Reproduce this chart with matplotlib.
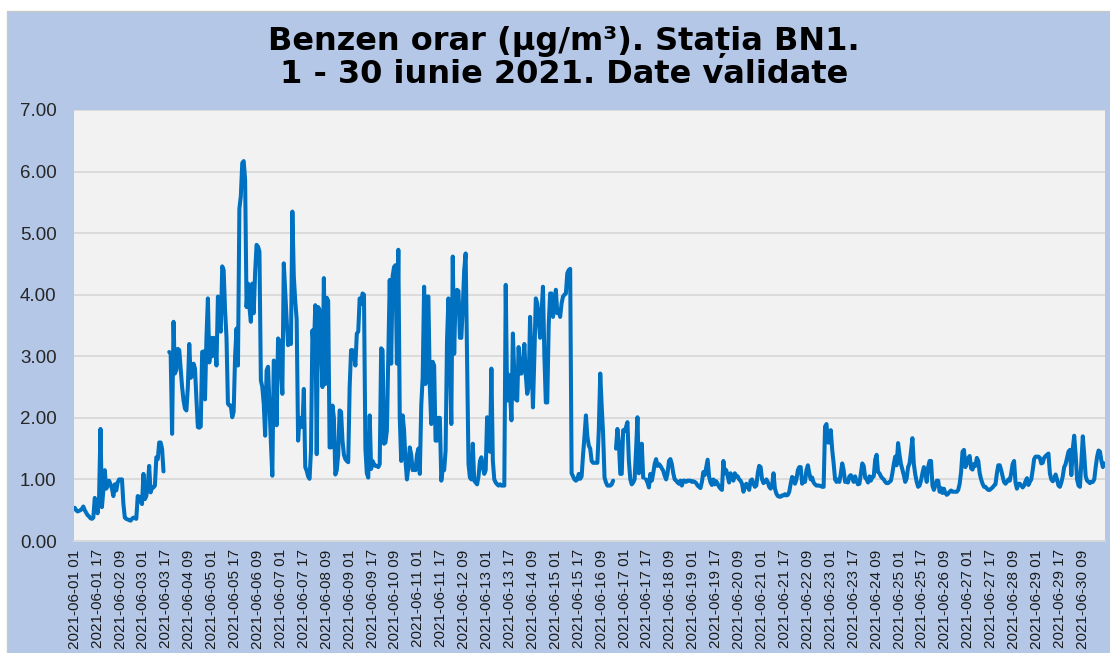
import numpy as np
import pandas as pd
import matplotlib
matplotlib.use("Agg")
import matplotlib.pyplot as plt
from matplotlib.patches import Rectangle
from matplotlib.ticker import FormatStrFormatter

# benzen orar, statia BN1, cate 24 valori pe zi (ora 01 ... ora 24)
iun01 = [0.54, 0.50, 0.48, 0.49, 0.50, 0.52, 0.56, 0.50, 0.46, 0.42, 0.40, 0.37, 0.36, 0.38, 0.70, 0.60, 0.45, 0.70, 1.82, 0.55, 0.82, 1.15, 0.85, 0.90]
iun02 = [0.98, 0.92, 0.85, 0.73, 0.92, 0.82, 0.95, 1.00, 1.00, 1.00, 0.60, 0.38, 0.36, 0.35, 0.34, 0.33, 0.36, 0.38, 0.37, 0.36, 0.73, 0.72, 0.65, 0.60]
iun03 = [1.09, 0.68, 0.73, 0.90, 1.22, 0.79, 0.87, 0.87, 0.90, 1.36, 1.33, 1.60, 1.60, 1.50, 1.13, None, None, None, 3.07, 3.04, 1.74, 3.56, 2.72, 2.78]
iun04 = [3.12, 3.10, 2.80, 2.50, 2.28, 2.15, 2.12, 2.50, 3.20, 2.65, 2.68, 2.88, 2.80, 2.30, 1.85, 1.84, 1.86, 3.07, 3.08, 2.30, 3.30, 3.94, 2.90, 3.30]
iun05 = [3.00, 3.30, 3.25, 2.85, 3.97, 3.50, 3.40, 4.46, 4.40, 3.75, 3.30, 2.23, 2.20, 2.20, 2.01, 2.10, 3.00, 3.45, 2.85, 5.40, 5.60, 6.14, 6.17, 5.87]
iun06 = [3.80, 4.18, 3.80, 3.56, 4.18, 3.70, 4.37, 4.81, 4.78, 4.70, 2.61, 2.50, 2.23, 1.71, 2.77, 2.83, 2.20, 1.60, 1.06, 2.93, 2.90, 1.88, 3.29, 3.25]
iun07 = [2.80, 2.39, 4.51, 4.05, 3.60, 3.18, 3.30, 3.20, 5.35, 4.30, 3.90, 3.60, 1.63, 2.00, 1.87, 1.85, 2.47, 1.20, 1.14, 1.05, 1.01, 1.47, 3.42, 3.10]
iun08 = [3.83, 1.41, 3.80, 3.75, 3.20, 2.50, 4.27, 2.55, 3.95, 3.90, 1.52, 1.52, 2.20, 2.00, 1.08, 1.15, 1.40, 2.12, 2.10, 1.63, 1.40, 1.33, 1.30, 1.28]
iun09 = [2.50, 3.10, 3.10, 3.05, 2.85, 3.37, 3.40, 3.94, 3.85, 4.02, 4.00, 1.50, 1.10, 1.03, 2.04, 1.17, 1.30, 1.25, 1.22, 1.22, 1.20, 1.25, 3.13, 3.10]
iun10 = [1.58, 1.60, 1.79, 3.00, 4.24, 2.88, 4.30, 4.45, 4.48, 2.88, 4.73, 2.00, 1.30, 2.04, 1.80, 1.30, 1.00, 1.20, 1.52, 1.40, 1.15, 1.20, 1.15, 1.40]
iun11 = [1.50, 1.09, 2.20, 2.66, 4.13, 2.55, 3.97, 3.97, 2.50, 1.90, 2.91, 2.85, 1.63, 1.63, 2.00, 2.00, 0.98, 1.17, 1.15, 1.47, 3.26, 3.94, 3.00, 1.90]
iun12 = [4.62, 3.04, 4.00, 4.08, 4.06, 3.30, 3.30, 3.80, 4.40, 4.67, 3.00, 1.25, 1.03, 1.00, 1.58, 0.98, 0.95, 0.92, 1.05, 1.30, 1.36, 1.20, 1.09, 1.15]
iun13 = [2.01, 1.50, 1.45, 2.80, 1.30, 1.00, 0.95, 0.92, 0.90, 0.92, 0.90, 0.90, 0.90, 4.16, 2.28, 2.70, 2.40, 1.96, 3.37, 2.70, 2.30, 2.28, 3.15, 2.72]
iun14 = [2.72, 2.90, 3.20, 2.70, 2.39, 2.50, 3.64, 3.00, 2.17, 3.00, 3.94, 3.86, 3.60, 3.30, 3.70, 4.13, 3.00, 2.25, 2.25, 3.50, 4.02, 4.02, 3.64, 3.80]
iun15 = [4.08, 3.70, 3.75, 3.64, 3.86, 3.97, 4.00, 4.02, 4.35, 4.40, 4.42, 1.10, 1.05, 1.00, 0.98, 1.00, 1.09, 1.01, 1.05, 1.40, 1.70, 2.04, 1.70, 1.55]
iun16 = [1.50, 1.30, 1.27, 1.27, 1.27, 1.27, 1.80, 2.72, 2.20, 1.74, 1.03, 0.95, 0.90, 0.90, 0.90, 0.92, 0.98, None, 1.50, 1.82, 1.60, 1.09, 1.09, 1.80]
iun17 = [1.78, 1.85, 1.93, 1.30, 1.00, 0.92, 0.95, 1.00, 1.47, 2.01, 1.10, 1.30, 1.58, 1.03, None, 1.00, 0.95, 0.87, 1.09, 0.98, 1.10, 1.25, 1.33, 1.22]
iun18 = [1.25, 1.22, 1.18, 1.14, 1.06, 1.00, 1.10, 1.30, 1.33, 1.25, 1.10, 1.00, 0.98, 0.95, 0.93, 0.98, 0.90, 0.98, 0.98, 0.96, 0.98, 0.98, 0.98, 0.96]
iun19 = [0.97, 0.96, 0.94, 0.90, 0.88, 0.86, 0.96, 1.12, 1.07, 1.20, 1.32, 1.05, 0.95, 0.91, 1.00, 0.92, 0.97, 0.93, 0.88, 0.85, 0.83, 1.30, 1.10, 1.15]
iun20 = [1.05, 0.95, 1.10, 1.05, 0.98, 1.10, 1.05, 1.05, 1.00, 0.98, 0.93, 0.80, 0.88, 0.93, 0.88, 0.83, 0.98, 1.00, 0.93, 0.88, 0.90, 1.10, 1.22, 1.20]
iun21 = [1.00, 0.94, 0.96, 1.00, 0.96, 0.88, 0.85, 0.90, 1.10, 0.85, 0.77, 0.73, 0.72, 0.72, 0.74, 0.74, 0.76, 0.74, 0.75, 0.80, 0.93, 1.04, 1.02, 0.93]
iun22 = [1.00, 1.15, 1.20, 1.20, 0.93, 1.00, 0.96, 1.15, 1.23, 1.10, 1.00, 1.03, 0.95, 0.92, 0.90, 0.90, 0.90, 0.89, 0.88, 0.88, 1.86, 1.90, 1.60, 1.60]
iun23 = [1.80, 1.48, 1.26, 1.00, 0.96, 1.00, 0.96, 1.10, 1.26, 1.15, 0.96, 0.98, 0.95, 1.05, 1.07, 1.02, 0.96, 1.05, 0.97, 0.92, 0.93, 1.10, 1.26, 1.22]
iun24 = [1.03, 1.00, 0.95, 1.05, 0.98, 1.04, 1.05, 1.32, 1.40, 1.12, 1.10, 1.05, 1.02, 1.00, 0.96, 0.94, 0.94, 0.96, 0.98, 1.10, 1.25, 1.37, 1.23, 1.59]
iun25 = [1.40, 1.25, 1.16, 1.07, 0.96, 1.02, 1.20, 1.26, 1.45, 1.67, 1.25, 1.08, 0.96, 0.88, 0.90, 0.98, 1.10, 1.20, 1.12, 0.96, 1.20, 1.30, 1.30, 0.90]
iun26 = [0.83, 0.90, 0.98, 0.98, 0.80, 0.86, 0.78, 0.85, 0.78, 0.75, 0.77, 0.80, 0.82, 0.80, 0.80, 0.80, 0.80, 0.83, 0.93, 1.12, 1.45, 1.48, 1.20, 1.26]
iun27 = [1.35, 1.38, 1.18, 1.16, 1.25, 1.22, 1.35, 1.30, 1.10, 1.00, 0.93, 0.88, 0.88, 0.85, 0.83, 0.83, 0.85, 0.87, 0.90, 0.92, 1.10, 1.23, 1.23, 1.15]
iun28 = [1.05, 0.96, 0.93, 0.96, 1.00, 0.98, 1.10, 1.25, 1.30, 0.95, 0.85, 0.93, 0.93, 0.90, 0.87, 0.90, 0.97, 1.02, 0.91, 0.96, 1.00, 1.15, 1.33, 1.37]
iun29 = [1.37, 1.37, 1.35, 1.26, 1.27, 1.35, 1.38, 1.40, 1.42, 1.10, 1.00, 0.97, 1.00, 1.08, 1.00, 0.90, 0.88, 0.95, 1.05, 1.20, 1.25, 1.35, 1.45, 1.48]
iun30 = [1.07, 1.50, 1.71, 1.40, 1.00, 0.90, 0.88, 1.30, 1.70, 1.40, 1.05, 0.98, 0.96, 0.94, 0.96, 0.96, 1.00, 1.20, 1.37, 1.47, 1.45, 1.30, 1.20, 1.26]

zile = [iun01, iun02, iun03, iun04, iun05, iun06, iun07, iun08, iun09, iun10,
        iun11, iun12, iun13, iun14, iun15, iun16, iun17, iun18, iun19, iun20,
        iun21, iun22, iun23, iun24, iun25, iun26, iun27, iun28, iun29, iun30]
valori = np.array([np.nan if v is None else v for z in zile for v in z], dtype=float)

ore = pd.date_range("2021-06-01 01:00", periods=len(valori), freq="h")
etichete = [t.strftime("%Y-%m-%d %H") for t in ore]
titlu1 = "Benzen orar (µg/m³). Stația BN1."
titlu2 = "1 - 30 iunie 2021. Date validate"

W, H = 1110, 653
fig = plt.figure(figsize=(W / 100, H / 100), dpi=100, facecolor="white")
fig.patches.append(Rectangle((7 / W, -0.01), 1 - 7 / W + 0.01, 1 - 11 / H + 0.01,
                             transform=fig.transFigure, facecolor="#B4C7E7",
                             edgecolor="#C8C8C8", lw=1, zorder=-10))

ax = fig.add_axes([74 / W, 1 - 541 / H, 1031 / W, 431 / H])
ax.set_zorder(2)
ax.set_facecolor("#F2F2F2")

x = np.arange(len(valori))
ax.plot(x, valori, color="#0070C0", lw=2.9, solid_joinstyle="round", solid_capstyle="round")

ax.set_xlim(-0.5, len(valori) - 0.5)
ax.set_ylim(0, 7)
ax.set_yticks(np.arange(0, 8))
ax.yaxis.set_major_formatter(FormatStrFormatter("%.2f"))
ax.set_xticks(x[::16])
ax.set_xticklabels(etichete[::16], rotation=90, family="Liberation Sans", fontsize=11, color="#1a1a1a")
ax.tick_params(axis="x", length=0, pad=6)
ax.tick_params(axis="y", length=0, pad=12.5, labelsize=13.5, labelcolor="#262626")
for lab in ax.get_yticklabels():
    lab.set_family("Liberation Sans")

ax.yaxis.grid(True, color="#D9D9D9", lw=1.3)
ax.set_axisbelow(True)
for s in ["top", "left", "right"]:
    ax.spines[s].set_visible(False)
ax.spines["bottom"].set_color("#D9D9D9")
ax.spines["bottom"].set_linewidth(1.3)

fig.text(564 / W, 1 - 50 / H, titlu1, ha="center", va="baseline", fontsize=23,
         fontweight="bold", family="DejaVu Sans", color="black", zorder=3)
fig.text(564 / W, 1 - 83 / H, titlu2, ha="center", va="baseline", fontsize=23,
         fontweight="bold", family="DejaVu Sans", color="black", zorder=3)

fig.savefig("out.png", dpi=100, facecolor=fig.get_facecolor())
